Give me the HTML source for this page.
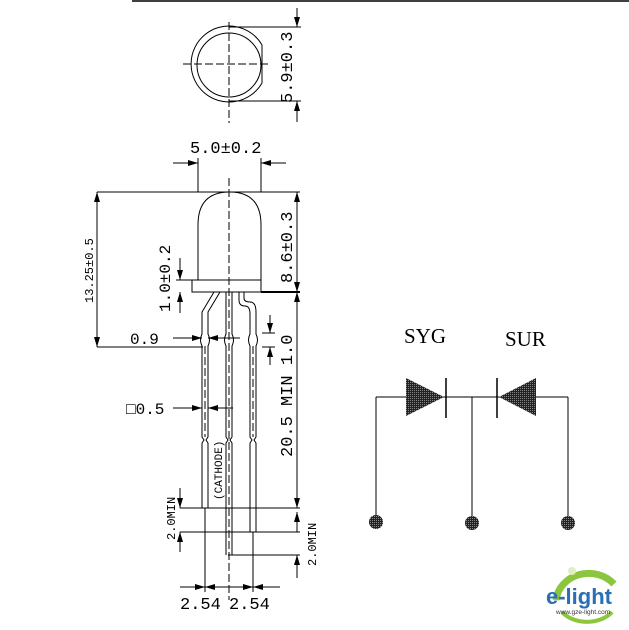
<!DOCTYPE html>
<html><head><meta charset="utf-8"><style>
html,body{margin:0;padding:0;background:#fff;}
svg{display:block;}
.t{font-family:"Liberation Mono","DejaVu Sans Mono",monospace;fill:#000;}
</style></head><body>
<svg width="629" height="630" viewBox="0 0 629 630" xmlns="http://www.w3.org/2000/svg">
<defs>
<marker id="a" viewBox="0 0 10 6" refX="10" refY="3" markerWidth="10" markerHeight="6" orient="auto" markerUnits="userSpaceOnUse"><path d="M0,0L10,3L0,6z" fill="#000"/></marker>
<pattern id="h" width="2" height="2" patternUnits="userSpaceOnUse"><rect width="2" height="2" fill="#222"/><rect width="1" height="1" fill="#888"/></pattern>
</defs>
<g stroke="#000" stroke-width="1" fill="none">
<line x1="132" y1="1" x2="629" y2="1" stroke-width="1.5"/>
<!-- top view -->
<path d="M262,45 A38,38 0 1 0 262,83 Z"/>
<circle cx="229" cy="65" r="32"/>
<line x1="229" y1="22" x2="229" y2="123" stroke-dasharray="8,3"/>
<line x1="183" y1="64" x2="268" y2="64" stroke-dasharray="8,3"/>
<line x1="229" y1="27" x2="301" y2="27"/>
<line x1="229" y1="101" x2="301" y2="101"/>
<line x1="297" y1="8" x2="297" y2="27" marker-end="url(#a)"/>
<line x1="297" y1="122" x2="297" y2="101" marker-end="url(#a)"/>
<!-- body -->
<path d="M198,280 L198,225 Q198,192 229.5,192 Q261,192 261,225 L261,280"/>
<rect x="192" y="280" width="69" height="12"/>
<line x1="229" y1="178" x2="229" y2="600" stroke-dasharray="8,3"/>
<line x1="97" y1="192" x2="300" y2="192"/>
<line x1="261" y1="292" x2="300" y2="292" stroke-width="2"/>
<line x1="198" y1="158" x2="198" y2="192"/>
<line x1="261" y1="158" x2="261" y2="192"/>
<line x1="173" y1="163" x2="198" y2="163" marker-end="url(#a)"/>
<line x1="286" y1="163" x2="261" y2="163" marker-end="url(#a)"/>
<line x1="297" y1="292" x2="297" y2="192" marker-end="url(#a)"/>
<line x1="297" y1="192" x2="297" y2="292" marker-end="url(#a)"/>
<line x1="97" y1="347" x2="97" y2="192" marker-end="url(#a)"/>
<line x1="97" y1="192" x2="97" y2="347" marker-end="url(#a)"/>
<line x1="97" y1="347" x2="203" y2="347"/>
<line x1="176" y1="280" x2="192" y2="280"/>
<line x1="180" y1="258" x2="180" y2="280" marker-end="url(#a)"/>
<line x1="180" y1="313" x2="180" y2="292" marker-end="url(#a)"/>
<!-- leads -->
<path d="M214,292 L202,312 L202,334 Q199,340 202,346 L202,437 L204,440 L202,443 L202,508 M220,292 L208,312 L208,334 Q211,340 208,346 L208,437 L206,440 L208,443 L208,508"/>
<path d="M226,292 L226,334 Q223,340 226,346 L226,437 L228,440 L226,443 L226,555 M232,292 L232,334 Q235,340 232,346 L232,437 L230,440 L232,443 L232,555"/>
<path d="M239,292 L239,300 Q239,306 245,306 Q250,306 250,314 L250,334 Q247,340 250,346 L250,437 L252,440 L250,443 L250,532 M244,292 L244,298 Q244,302 250,302 Q256,302 256,312 L256,334 Q259,340 256,346 L256,437 L254,440 L256,443 L256,532"/>
<line x1="205" y1="346" x2="205" y2="437" stroke-dasharray="8,3"/>
<line x1="253" y1="346" x2="253" y2="437" stroke-dasharray="8,3"/>
<line x1="173" y1="338" x2="202" y2="338" marker-end="url(#a)"/>
<line x1="240" y1="338" x2="208" y2="338" marker-end="url(#a)"/>
<line x1="173" y1="408" x2="202" y2="408" marker-end="url(#a)"/>
<line x1="233" y1="408" x2="208" y2="408" marker-end="url(#a)"/>
<line x1="262" y1="333" x2="275" y2="333"/>
<line x1="262" y1="347" x2="275" y2="347"/>
<line x1="270" y1="315" x2="270" y2="333" marker-end="url(#a)"/>
<line x1="270" y1="365" x2="270" y2="347" marker-end="url(#a)"/>
<line x1="297" y1="508" x2="297" y2="292" marker-end="url(#a)"/>
<line x1="297" y1="292" x2="297" y2="508" marker-end="url(#a)"/>
<line x1="180" y1="508" x2="300" y2="508"/>
<line x1="180" y1="532" x2="300" y2="532"/>
<line x1="228" y1="555" x2="300" y2="555"/>
<line x1="180" y1="488" x2="180" y2="508" marker-end="url(#a)"/>
<line x1="180" y1="552" x2="180" y2="532" marker-end="url(#a)"/>
<line x1="297" y1="532" x2="297" y2="512" marker-end="url(#a)"/>
<line x1="297" y1="578" x2="297" y2="555" marker-end="url(#a)"/>
<line x1="205" y1="508" x2="205" y2="592"/>
<line x1="253" y1="532" x2="253" y2="592"/>
<line x1="180" y1="587" x2="205" y2="587" marker-end="url(#a)"/>
<line x1="229" y1="587" x2="205" y2="587" marker-end="url(#a)"/>
<line x1="229" y1="587" x2="253" y2="587" marker-end="url(#a)"/>
<line x1="280" y1="587" x2="253" y2="587" marker-end="url(#a)"/>
<!-- schematic -->
<line x1="376" y1="397" x2="568" y2="397"/>
<line x1="376" y1="397" x2="376" y2="518"/>
<line x1="472" y1="397" x2="472" y2="518"/>
<line x1="568" y1="397" x2="568" y2="518"/>
<line x1="446" y1="378" x2="446" y2="418" stroke-width="1.5"/>
<line x1="497" y1="378" x2="497" y2="418" stroke-width="1.5"/>
</g>
<polygon points="406,378 444,397 406,416" fill="url(#h)"/>
<polygon points="536,378 499,397 536,416" fill="url(#h)"/>
<circle cx="376" cy="522" r="7" fill="url(#h)"/>
<circle cx="472" cy="523" r="7" fill="url(#h)"/>
<circle cx="568" cy="523" r="7" fill="url(#h)"/>
<text x="404" y="343" font-family="Liberation Serif,serif" font-size="21">SYG</text>
<text x="505" y="346" font-family="Liberation Serif,serif" font-size="21">SUR</text>
<!-- dimension text -->
<text class="t" font-size="17" transform="translate(292,103) rotate(-90)">5.9±0.3</text>
<text class="t" x="190" y="153" font-size="17">5.0±0.2</text>
<text class="t" font-size="17" transform="translate(292,283) rotate(-90)">8.6±0.3</text>
<text class="t" font-size="12" transform="translate(93,303) rotate(-90)">13.25±0.5</text>
<text class="t" font-size="16" transform="translate(170,312) rotate(-90)">1.0±0.2</text>
<text class="t" x="130" y="344" font-size="16">0.9</text>
<text class="t" x="126" y="414" font-size="16">□0.5</text>
<text class="t" font-size="17" transform="translate(292,457) rotate(-90)">20.5 MIN 1.0</text>
<text class="t" font-size="11" transform="translate(222,500) rotate(-90)">(CATHODE)</text>
<text class="t" font-size="12" transform="translate(175,540) rotate(-90)">2.0MIN</text>
<text class="t" font-size="12" transform="translate(316,566) rotate(-90)">2.0MIN</text>
<text class="t" x="180" y="609" font-size="17">2.54</text>
<text class="t" x="229" y="609" font-size="17">2.54</text>
<!-- logo -->
<path d="M556,600 A33,30 0 0 1 614,584" stroke="#8cc63f" stroke-width="7" fill="none"/>
<path d="M562,612 A30,22 0 0 0 612,612" stroke="#8cc63f" stroke-width="4" fill="none"/>
<circle cx="572" cy="571" r="4" fill="#dff0c0"/>
<text x="546" y="604" font-family="Liberation Sans,sans-serif" font-weight="bold" font-size="22" fill="#2a6fb5">e-light</text>
<text x="556" y="614" font-family="Liberation Sans,sans-serif" font-size="6.5" fill="#333">www.gze-light.com</text>
</svg>
</body></html>
